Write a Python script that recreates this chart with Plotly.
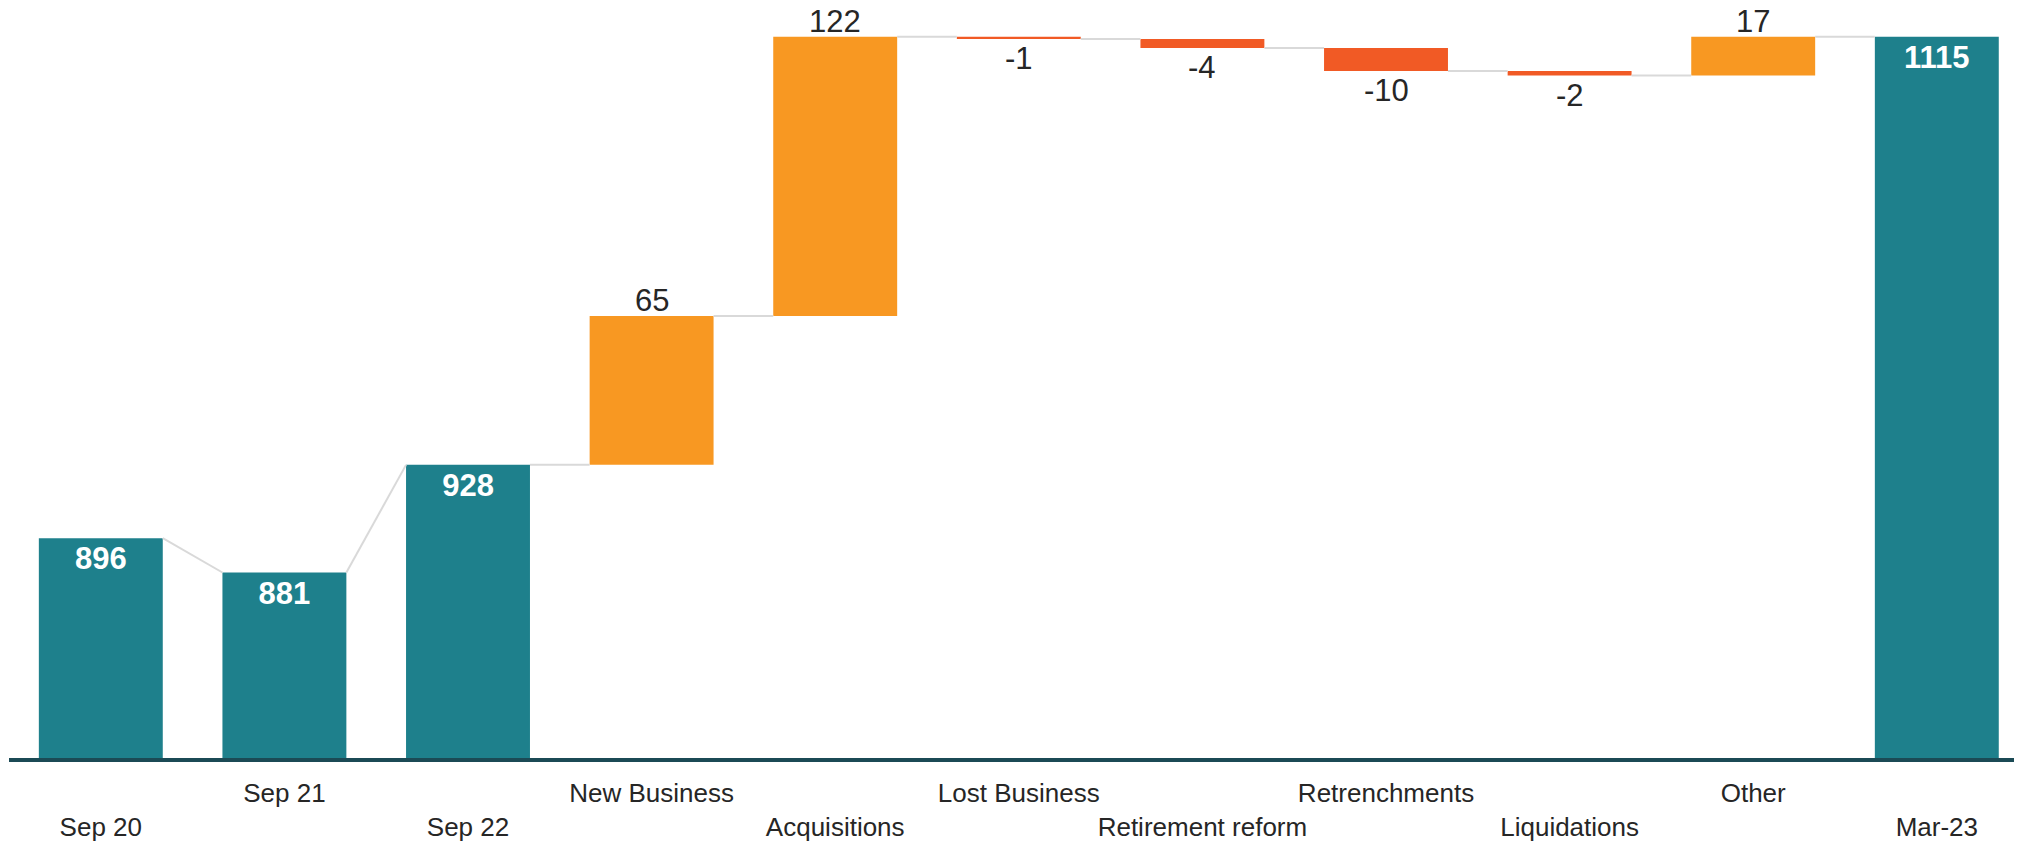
import plotly.graph_objects as go

# ---- data ----
categories = ["Sep 20", "Sep 21", "Sep 22", "New Business", "Acquisitions",
              "Lost Business", "Retirement reform", "Retrenchments",
              "Liquidations", "Other", "Mar-23"]
values = [896, 881, 928, 65, 122, -1, -4, -10, -2, 17, 1115]
measures = ["total", "total", "total", "relative", "relative", "relative",
            "relative", "relative", "relative", "relative", "total"]

# ---- styles ----
TEAL = "#1e808c"
POS = "#f89822"
NEG = "#f15a25"
CONNECTOR = "#d9d9d9"
AXIS = "#1b4a55"
TEXT = "#262626"
FONT = "Arial, Liberation Sans, sans-serif"
BAR_W = 0.675

# running levels
starts, ends = [], []
level = 0
for v, m in zip(values, measures):
    if m == "total":
        starts.append(v)
        level = v
        ends.append(v)
    else:
        starts.append(level)
        level += v
        ends.append(level)

idx = list(range(len(categories)))
tot_idx = [i for i in idx if measures[i] == "total"]
rel_idx = [i for i in idx if measures[i] == "relative"]

fig = go.Figure()

# connectors
cx, cy = [], []
for i in idx[:-1]:
    cx += [i + BAR_W / 2, i + 1 - BAR_W / 2, None]
    cy += [ends[i], starts[i + 1], None]
fig.add_trace(go.Scatter(x=cx, y=cy, mode="lines",
                         line=dict(color=CONNECTOR, width=2),
                         hoverinfo="skip", showlegend=False))

# totals
fig.add_trace(go.Bar(
    x=tot_idx, y=[values[i] for i in tot_idx], base=0, width=BAR_W,
    marker=dict(color=TEAL, line=dict(width=0)),
    text=[str(values[i]) for i in tot_idx], textposition="inside",
    insidetextanchor="end", constraintext="none",
    textfont=dict(family=FONT, size=31, color="white", weight="bold"),
    cliponaxis=False, showlegend=False))

# deltas
fig.add_trace(go.Bar(
    x=rel_idx, y=[values[i] for i in rel_idx],
    base=[starts[i] for i in rel_idx], width=BAR_W,
    marker=dict(color=[POS if values[i] >= 0 else NEG for i in rel_idx],
                line=dict(width=0)),
    cliponaxis=False, showlegend=False))

# delta value labels
for i in rel_idx:
    pos = values[i] >= 0
    fig.add_annotation(
        x=i, y=ends[i], xref="x", yref="y", text=str(values[i]),
        showarrow=False, yanchor="bottom" if pos else "top",
        yshift=-4 if pos else 0,
        font=dict(family=FONT, size=31, color=TEXT))

ticktext = [c if i % 2 == 1 else "\u00a0<br>" + c for i, c in enumerate(categories)]

fig.update_layout(
    width=2014, height=835,
    margin=dict(l=1, r=0, t=0, b=85),
    plot_bgcolor="white", paper_bgcolor="white",
    barmode="overlay",
    font=dict(family=FONT, color=TEXT),
    xaxis=dict(range=[-0.5, 10.464], tickvals=idx, ticktext=ticktext,
               tickangle=0, automargin=False, ticklabelstandoff=9,
               showgrid=False, zeroline=False, showline=True,
               linecolor=AXIS, linewidth=3.5, ticks="",
               tickfont=dict(family=FONT, size=26, color=TEXT)),
    yaxis=dict(range=[800, 1127.5], visible=False, showgrid=False,
               automargin=False),
)

fig.write_html("out.html")
